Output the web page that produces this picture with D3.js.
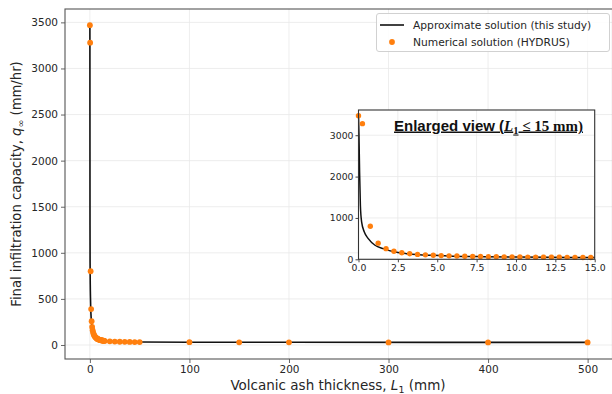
<!DOCTYPE html>
<meta charset="utf-8">
<script src="https://d3js.org/d3.v7.min.js"></script>
<style>
  body { margin: 0; background: #fff; }
  text { font-family: "DejaVu Sans", sans-serif; }
</style>
<div id="chart"></div>
<script>

// numerical solution (HYDRUS)
var numL = [0, 0.25, 0.75, 1.25, 1.75, 2.25, 2.75, 3.25, 3.75, 4.25, 4.75,
            5.25, 5.75, 6.25, 6.75, 7.25, 7.75, 8.25, 8.75, 9.25, 9.75,
            10.25, 10.75, 11.25, 11.75, 12.25, 12.75, 13.25, 13.75, 14.25, 14.75,
            20, 25, 30, 35, 40, 45, 50, 100, 150, 200, 300, 400, 500];
var numQ = [3470, 3280, 800, 390, 258, 196, 160, 136, 119, 107, 97,
            89, 83, 78, 73, 69, 66, 63, 61, 58, 56,
            55, 53, 52, 50, 49, 48, 47, 46, 45, 44,
            40, 37, 35, 34, 33, 32, 32, 30, 29, 29, 28, 28, 28];

// approximate solution (this study)
var apprL = [0, 0.03, 0.07, 0.12, 0.2, 0.37, 0.62, 1.05, 1.58, 2.32, 3.06, 3.9, 4.75,
             6, 8, 10, 12, 15, 20, 30, 50, 100, 200, 500];
var apprQ = [3470, 3000, 2100, 1300, 900, 660, 500, 340, 258, 177, 137, 113, 96,
             76, 63, 55, 49, 43, 39, 35, 32, 30, 29, 28];

var xTicks = [0, 100, 200, 300, 400, 500];
var yTicks = [0, 500, 1000, 1500, 2000, 2500, 3000, 3500];
var insetXTicks = [0, 2.5, 5, 7.5, 10, 12.5, 15];
var insetYTicks = [0, 1000, 2000, 3000];

var numData = numL.map(function(d, i) { return {L: d, q: numQ[i]}; });
var apprData = apprL.map(function(d, i) { return {L: d, q: apprQ[i]}; });

var W = 612, H = 394;
var orange = "#ff7f0e", grid = "#e8e8e8", spine = "#555", ink = "#262626";

var svg = d3.select("#chart").append("svg")
    .attr("width", W).attr("height", H);
svg.append("rect").attr("width", W).attr("height", H).attr("fill", "#fff");

// main axes
var mLeft = 65, mRight = 612.5, mTop = 9, mBottom = 359;
var x = d3.scaleLinear().domain([-25, 525]).range([mLeft, mRight]);
var y = d3.scaleLinear().domain([-152, 3645]).range([mBottom, mTop]);

svg.append("g").selectAll("line").data(xTicks).enter().append("line")
    .attr("x1", function(d) { return x(d); }).attr("x2", function(d) { return x(d); })
    .attr("y1", mTop).attr("y2", mBottom)
    .attr("stroke", grid).attr("stroke-width", 0.8);
svg.append("g").selectAll("line").data(yTicks).enter().append("line")
    .attr("y1", function(d) { return y(d); }).attr("y2", function(d) { return y(d); })
    .attr("x1", mLeft).attr("x2", mRight)
    .attr("stroke", grid).attr("stroke-width", 0.8);

var line = d3.line()
    .x(function(d) { return x(d.L); })
    .y(function(d) { return y(d.q); })
    .curve(d3.curveMonotoneX);

svg.append("path").datum(apprData)
    .attr("d", line).attr("fill", "none")
    .attr("stroke", "#111").attr("stroke-width", 1.6);

svg.append("g").selectAll("circle").data(numData).enter().append("circle")
    .attr("cx", function(d) { return x(d.L); })
    .attr("cy", function(d) { return y(d.q); })
    .attr("r", 2.9).attr("fill", orange);

var xAxis = svg.append("g")
    .attr("transform", "translate(0," + mBottom + ")")
    .call(d3.axisBottom(x).tickValues(xTicks).tickSize(4).tickPadding(3).tickFormat(d3.format("d")));
var yAxis = svg.append("g")
    .attr("transform", "translate(" + mLeft + ",0)")
    .call(d3.axisLeft(y).tickValues(yTicks).tickSize(4).tickPadding(3).tickFormat(d3.format("d")));
[xAxis, yAxis].forEach(function(a) {
  a.select(".domain").remove();
  a.selectAll(".tick line").attr("stroke", spine).attr("stroke-width", 0.9);
  a.selectAll(".tick text").attr("fill", ink)
      .style("font-family", "DejaVu Sans").style("font-size", "10.5px");
});

svg.append("rect")
    .attr("x", mLeft).attr("y", mTop)
    .attr("width", mRight - mLeft).attr("height", mBottom - mTop)
    .attr("fill", "none").attr("stroke", spine).attr("stroke-width", 1.1);

// axis titles
var xl = svg.append("text")
    .attr("x", 338).attr("y", 389.5)
    .attr("text-anchor", "middle").attr("fill", ink)
    .style("font-size", "13.5px");
xl.append("tspan").text("Volcanic ash thickness,\u00A0");
xl.append("tspan").style("font-style", "italic").text("L");
xl.append("tspan").attr("font-size", "9.5px").attr("dy", 3).text("1");
xl.append("tspan").attr("dy", -3).text("\u00A0(mm)");

var yl = svg.append("text")
    .attr("transform", "translate(21," + ((mTop + mBottom) / 2) + ") rotate(-90)")
    .attr("text-anchor", "middle").attr("fill", ink)
    .style("font-size", "13.2px");
yl.append("tspan").text("Final infiltration capacity,\u00A0");
yl.append("tspan").style("font-style", "italic").text("q");
yl.append("tspan").attr("font-size", "9.5px").attr("dy", 3).text("\u221E");
yl.append("tspan").attr("dy", -3).text("\u00A0(mm/hr)");

// legend
var lg = svg.append("g");
lg.append("rect")
    .attr("x", 376.5).attr("y", 13.5).attr("width", 233).attr("height", 38)
    .attr("rx", 2.5).attr("fill", "#fff").attr("fill-opacity", 0.85)
    .attr("stroke", "#ccc").attr("stroke-width", 0.9);
lg.append("line").attr("x1", 380).attr("x2", 404).attr("y1", 25).attr("y2", 25)
    .attr("stroke", "#111").attr("stroke-width", 1.6);
lg.append("circle").attr("cx", 392).attr("cy", 42).attr("r", 2.9).attr("fill", orange);
lg.append("text").attr("x", 413).attr("y", 29).attr("fill", ink)
    .style("font-size", "10.7px").text("Approximate solution (this study)");
lg.append("text").attr("x", 413).attr("y", 46).attr("fill", ink)
    .style("font-size", "10.7px").text("Numerical solution (HYDRUS)");

// inset
var iL = 358.5, iR = 594.7, iT = 110, iB = 259.3;
var ix = d3.scaleLinear().domain([0, 15]).range([iL, iR]);
var iy = d3.scaleLinear().domain([0, 3610]).range([iB, iT]);

var inset = svg.append("g");
inset.append("rect").attr("x", iL).attr("y", iT)
    .attr("width", iR - iL).attr("height", iB - iT).attr("fill", "#fff");
svg.append("clipPath").attr("id", "iclip").append("rect")
    .attr("x", iL).attr("y", iT).attr("width", iR - iL).attr("height", iB - iT);

inset.append("g").selectAll("line").data(insetXTicks).enter().append("line")
    .attr("x1", function(d) { return ix(d); }).attr("x2", function(d) { return ix(d); })
    .attr("y1", iT).attr("y2", iB).attr("stroke", grid).attr("stroke-width", 0.8);
inset.append("g").selectAll("line").data(insetYTicks).enter().append("line")
    .attr("y1", function(d) { return iy(d); }).attr("y2", function(d) { return iy(d); })
    .attr("x1", iL).attr("x2", iR).attr("stroke", grid).attr("stroke-width", 0.8);

var iline = d3.line()
    .x(function(d) { return ix(d.L); })
    .y(function(d) { return iy(d.q); })
    .curve(d3.curveMonotoneX);

var inner = inset.append("g").attr("clip-path", "url(#iclip)");
inner.append("path").datum(apprData.filter(function(d) { return d.L <= 20; }))
    .attr("d", iline).attr("fill", "none")
    .attr("stroke", "#111").attr("stroke-width", 1.5);
inset.append("g").selectAll("circle")
    .data(numData.filter(function(d) { return d.L <= 15; })).enter().append("circle")
    .attr("cx", function(d) { return ix(d.L); })
    .attr("cy", function(d) { return iy(d.q); })
    .attr("r", 2.7).attr("fill", orange);

var ixAxis = inset.append("g")
    .attr("transform", "translate(0," + iB + ")")
    .call(d3.axisBottom(ix).tickValues(insetXTicks).tickSize(3).tickPadding(2).tickFormat(d3.format(".1f")));
var iyAxis = inset.append("g")
    .attr("transform", "translate(" + iL + ",0)")
    .call(d3.axisLeft(iy).tickValues(insetYTicks).tickSize(3).tickPadding(2).tickFormat(d3.format("d")));
[ixAxis, iyAxis].forEach(function(a) {
  a.select(".domain").remove();
  a.selectAll(".tick line").attr("stroke", "#333").attr("stroke-width", 0.9);
  a.selectAll(".tick text").attr("fill", ink)
      .style("font-family", "DejaVu Sans").style("font-size", "9.3px");
});

inset.append("rect").attr("x", iL).attr("y", iT)
    .attr("width", iR - iL).attr("height", iB - iT)
    .attr("fill", "none").attr("stroke", "#333").attr("stroke-width", 1.1);

var tt = inset.append("text")
    .attr("x", 488.5).attr("y", 130.5).attr("text-anchor", "middle")
    .attr("fill", "#111").style("font-weight", "bold")
    .style("text-decoration", "underline").style("font-size", "15px");
tt.append("tspan").style("font-family", "Liberation Sans").text("Enlarged view (");
tt.append("tspan").style("font-family", "Liberation Serif").style("font-style", "italic").text("L");
tt.append("tspan").style("font-family", "Liberation Serif").attr("font-size", "10.5px").attr("dy", 3).text("1");
tt.append("tspan").style("font-family", "Liberation Serif").attr("dy", -3).text("\u00A0\u2264 15 mm)");

</script>
